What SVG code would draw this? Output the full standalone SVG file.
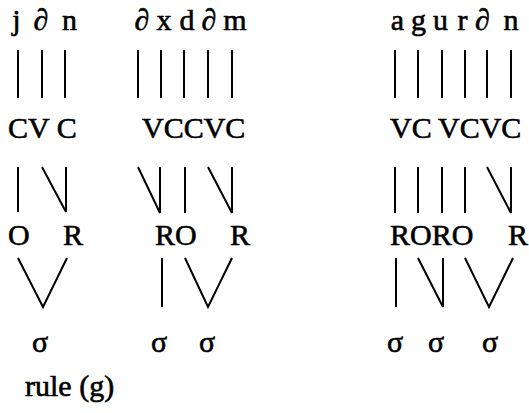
<svg xmlns="http://www.w3.org/2000/svg" width="529" height="413" viewBox="0 0 529 413">
<style>
text{font-family:"Liberation Serif","Times New Roman",serif;font-size:30px;fill:#000;stroke:#000;stroke-width:0.6}
.m{text-anchor:middle}
line{stroke:#000;stroke-width:2;stroke-linecap:butt;fill:none}
polyline{stroke:#000;stroke-width:2;fill:none;stroke-linejoin:miter}
</style>
<rect width="529" height="413" fill="#fff"/>
<g id="segments1">
<text class="m" x="16.5" y="30">j</text>
<text class="m" x="41" y="30">∂</text>
<text class="m" x="69.5" y="30">n</text>
</g>
<g id="segments2">
<text class="m" x="142" y="30">∂</text>
<text class="m" x="164" y="30">x</text>
<text class="m" x="187" y="30">d</text>
<text class="m" x="209" y="30">∂</text>
<text class="m" x="235" y="30">m</text>
</g>
<g id="segments3">
<text class="m" x="397.5" y="30">a</text>
<text class="m" x="418.5" y="30">g</text>
<text class="m" x="440.5" y="30">u</text>
<text class="m" x="462.5" y="30">r</text>
<text class="m" x="482.5" y="30">∂</text>
<text class="m" x="511" y="30">n</text>
</g>
<g id="cv1"><text x="8" y="138">CV C</text></g>
<g id="cv2"><text x="142" y="138">VCCVC</text></g>
<g id="cv3"><text x="390" y="138">VC</text><text x="438" y="138">VCVC</text></g>
<g id="or1"><text x="8" y="245">O</text><text x="63" y="245">R</text></g>
<g id="or2"><text x="155" y="245">RO</text><text x="230" y="245">R</text></g>
<g id="or3"><text x="390" y="245">RORO</text><text x="508" y="245">R</text></g>
<g id="syll1"><text class="m" x="40" y="352">σ</text></g>
<g id="syll2"><text class="m" x="159" y="352">σ</text><text class="m" x="207" y="352">σ</text></g>
<g id="syll3"><text class="m" x="395" y="352">σ</text><text class="m" x="436" y="352">σ</text><text class="m" x="490" y="352">σ</text></g>
<g id="caption"><text x="25" y="396">rule (g)</text></g>
<g id="connectors">
<line x1="18" y1="50" x2="18" y2="98"/>
<line x1="42" y1="50" x2="42" y2="98"/>
<line x1="65" y1="50" x2="65" y2="98"/>
<line x1="138" y1="50" x2="138" y2="98"/>
<line x1="161" y1="50" x2="161" y2="98"/>
<line x1="184" y1="50" x2="184" y2="98"/>
<line x1="208" y1="50" x2="208" y2="98"/>
<line x1="232" y1="50" x2="232" y2="98"/>
<line x1="395" y1="50" x2="395" y2="98"/>
<line x1="418" y1="50" x2="418" y2="98"/>
<line x1="442" y1="50" x2="442" y2="98"/>
<line x1="465" y1="50" x2="465" y2="98"/>
<line x1="487" y1="50" x2="487" y2="98"/>
<line x1="511" y1="50" x2="511" y2="98"/>
<line x1="18" y1="167" x2="18" y2="212"/>
<line x1="42" y1="167" x2="66" y2="212"/>
<line x1="66" y1="167" x2="66" y2="212"/>
<line x1="138" y1="167" x2="160" y2="213"/>
<line x1="160" y1="167" x2="160" y2="213"/>
<line x1="185" y1="167" x2="185" y2="213"/>
<line x1="208" y1="167" x2="232" y2="213"/>
<line x1="232" y1="167" x2="232" y2="213"/>
<line x1="395" y1="167" x2="395" y2="213"/>
<line x1="418" y1="167" x2="418" y2="213"/>
<line x1="442" y1="167" x2="442" y2="213"/>
<line x1="465" y1="167" x2="465" y2="213"/>
<line x1="487" y1="167" x2="511" y2="213"/>
<line x1="511" y1="167" x2="511" y2="213"/>
<polyline points="18,258 43,307 67,258"/>
<line x1="162" y1="258" x2="162" y2="307"/>
<polyline points="185,258 208,307 232,258"/>
<line x1="396" y1="258" x2="396" y2="307"/>
<line x1="418" y1="258" x2="443" y2="307"/>
<line x1="443" y1="258" x2="443" y2="307"/>
<polyline points="465,258 489,307 513,258"/>
</g>
</svg>
